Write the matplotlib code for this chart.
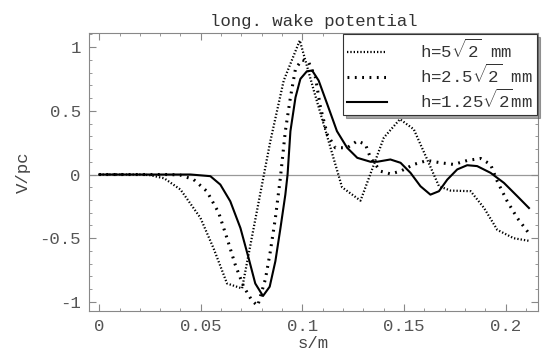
import matplotlib
matplotlib.use("Agg")
import matplotlib.pyplot as plt
from matplotlib.ticker import MultipleLocator

plt.rcParams['font.family'] = ['Liberation Mono', 'DejaVu Sans Mono']
plt.rcParams['mathtext.fontset'] = 'custom'
plt.rcParams['mathtext.rm'] = 'Liberation Mono'

# h = 5*sqrt(2) mm
s_a = [0.0, 0.02, 0.025, 0.032, 0.040, 0.0498, 0.0563, 0.0629, 0.0703, 0.0842,
       0.0908, 0.0987, 0.1056, 0.1195, 0.1286, 0.1401, 0.148, 0.1548, 0.1614,
       0.1672, 0.1729, 0.1828, 0.1894, 0.1959, 0.204, 0.2114]
v_a = [0.0, 0.0, -0.005, -0.03, -0.118, -0.34, -0.58, -0.855, -0.894, 0.26,
       0.737, 1.052, 0.66, -0.1, -0.205, 0.29, 0.434, 0.355, 0.118,
       -0.092, -0.126, -0.131, -0.263, -0.434, -0.50, -0.52]

# h = 2.5*sqrt(2) mm
s_b = [0.0, 0.035, 0.040, 0.0465, 0.053, 0.0588, 0.0629, 0.067, 0.0711, 0.0752,
       0.078, 0.0818, 0.0842, 0.0867, 0.0892, 0.0916, 0.0941, 0.0966, 0.0998,
       0.1031, 0.1064, 0.1089, 0.1122, 0.1162, 0.122, 0.127, 0.131, 0.1335,
       0.1384, 0.1433, 0.1483, 0.1548, 0.1614, 0.168, 0.1745, 0.1811, 0.1877,
       0.1926, 0.1959, 0.2008, 0.2058, 0.2114]
v_b = [0.0, 0.0, -0.005, -0.04, -0.132, -0.30, -0.50, -0.71, -0.88, -0.99,
       -1.03, -0.82, -0.605, -0.342, -0.02, 0.34, 0.605, 0.83, 0.90,
       0.88, 0.763, 0.526, 0.316, 0.21, 0.21, 0.263, 0.237, 0.131,
       0.026, 0.005, 0.026, 0.079, 0.11, 0.092, 0.079, 0.11, 0.126,
       0.079, -0.053, -0.21, -0.342, -0.46]

# h = 1.25*sqrt(2) mm
s_c = [0.0, 0.045, 0.0547, 0.0596, 0.0645, 0.0695, 0.0736, 0.0768, 0.0806, 0.0839,
       0.0867, 0.0892, 0.0916, 0.0927, 0.0941, 0.0966, 0.0990, 0.1022, 0.1048,
       0.1080, 0.1122, 0.1170, 0.1220, 0.1270, 0.1335, 0.1368, 0.1433, 0.1483,
       0.1532, 0.1581, 0.163, 0.1672, 0.1713, 0.1762, 0.1811, 0.186, 0.1926,
       0.1992, 0.2058, 0.2115]
v_c = [0.0, 0.0, -0.013, -0.079, -0.21, -0.42, -0.66, -0.855, -0.953, -0.88,
       -0.68, -0.42, -0.158, 0.0, 0.34, 0.605, 0.75, 0.81, 0.816,
       0.737, 0.553, 0.34, 0.21, 0.131, 0.10, 0.10, 0.118, 0.092,
       0.013, -0.092, -0.158, -0.131, -0.04, 0.04, 0.073, 0.066, 0.013,
       -0.066, -0.171, -0.263]

labels = [r'h=5$\sqrt{2}$ mm', r'h=2.5$\sqrt{2}$ mm', r'h=1.25$\sqrt{2}$mm']
x_ticks = [0, 0.05, 0.1, 0.15, 0.2]
x_ticklabels = ['0', '0.05', '0.1', '0.15', '0.2']
y_ticks = [-1, -0.5, 0, 0.5, 1]
y_ticklabels = ['-1', '-0.5', '0', '0.5', '1']

fig = plt.figure(figsize=(5.43, 3.59), dpi=100)
ax = fig.add_axes([0.164, 0.134, 0.827, 0.774])

ax.axhline(0, color='#999999', lw=0.9, zorder=1)
ax.plot(s_a, v_a, color='black', lw=1.6, ls=(0, (0.6, 0.9)), label=labels[0])
ax.plot(s_b, v_b, color='black', lw=2.2, ls=(0, (0.6, 1.8)), label=labels[1])
ax.plot(s_c, v_c, color='black', lw=1.5, ls='-', label=labels[2])

ax.set_xlim(-0.005, 0.216)
ax.set_ylim(-1.07, 1.11)
ax.set_xticks(x_ticks)
ax.set_xticklabels(x_ticklabels)
ax.set_yticks(y_ticks)
ax.set_yticklabels(y_ticklabels)
ax.xaxis.set_minor_locator(MultipleLocator(0.01))
ax.yaxis.set_minor_locator(MultipleLocator(0.1))
ax.tick_params(which='both', direction='in', top=True, right=True,
               colors='#888888', labelcolor='#555555', labelsize=12.5)
ax.tick_params(which='major', length=5, pad=6)
ax.tick_params(which='minor', length=2.5)
for sp in ax.spines.values():
    sp.set_color('#888888')

ax.set_title('long. wake potential', fontsize=12.5, color='#333333', pad=5)
ax.set_xlabel('s/m', fontsize=12.5, color='#444444', labelpad=1)
ax.set_ylabel('V/pc', fontsize=12.5, color='#444444', labelpad=6)

leg = ax.legend(loc='upper right', fontsize=12.5, frameon=True, fancybox=False,
                shadow=True, borderaxespad=0.05, handlelength=2.3,
                handletextpad=1.9, labelspacing=0.1, borderpad=0.25)
leg.get_frame().set_edgecolor('#333333')
leg.get_frame().set_linewidth(0.8)
for t in leg.get_texts():
    t.set_color('#333333')

fig.savefig('out.png', dpi=100)
